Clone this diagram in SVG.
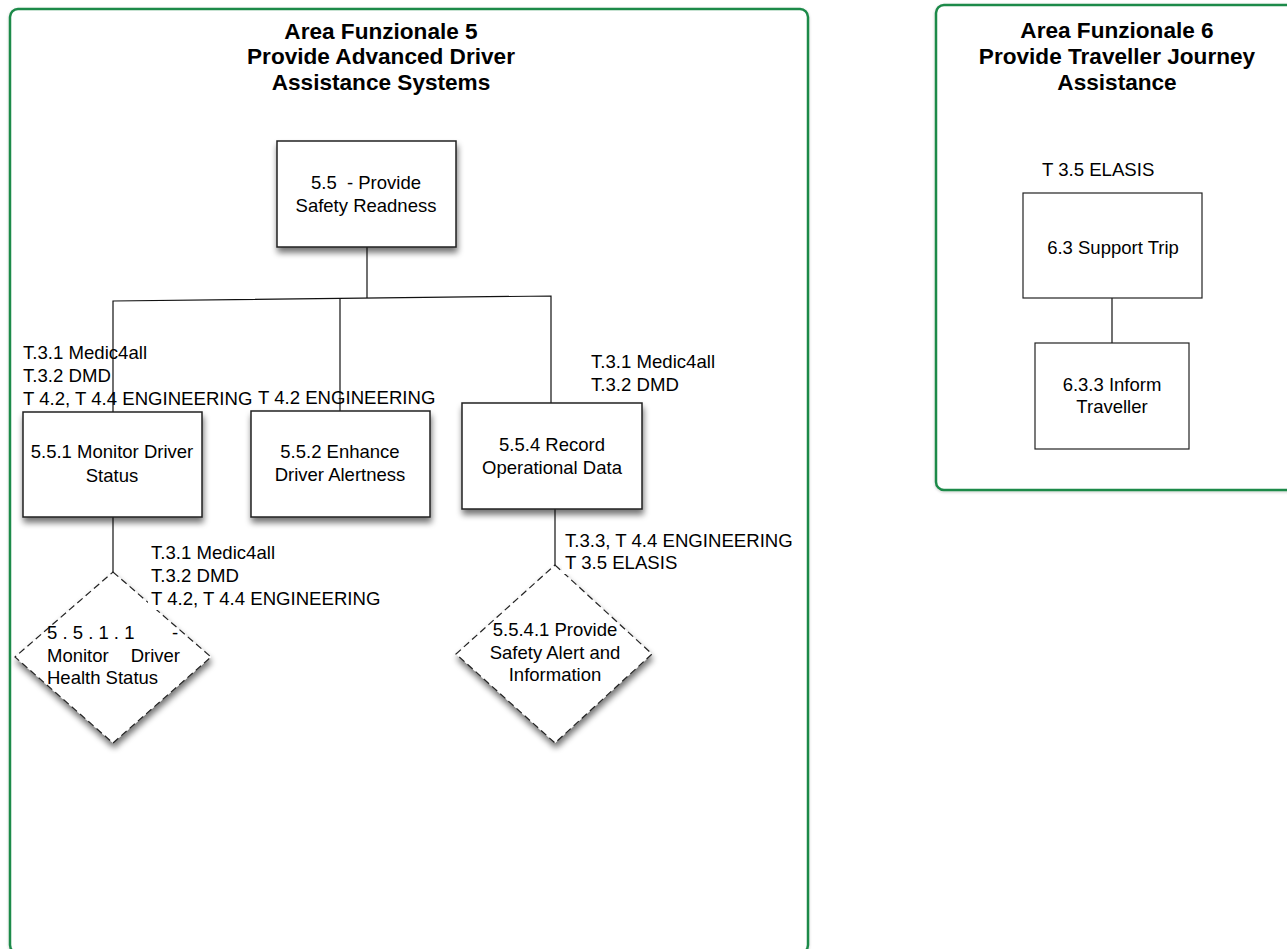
<svg xmlns="http://www.w3.org/2000/svg" width="1287" height="949" viewBox="0 0 1287 949">
  <defs>
    <filter id="shadow" x="-20%" y="-20%" width="150%" height="150%">
      <feGaussianBlur in="SourceAlpha" stdDeviation="3"/>
      <feOffset dx="1" dy="5" result="b"/>
      <feComponentTransfer><feFuncA type="linear" slope="0.55"/></feComponentTransfer>
      <feMerge><feMergeNode/><feMergeNode in="SourceGraphic"/></feMerge>
    </filter>
    <filter id="panelShadow" x="-5%" y="-5%" width="110%" height="110%">
      <feGaussianBlur in="SourceAlpha" stdDeviation="1.5"/>
      <feOffset dx="0" dy="1"/>
      <feComponentTransfer><feFuncA type="linear" slope="0.2"/></feComponentTransfer>
      <feMerge><feMergeNode/><feMergeNode in="SourceGraphic"/></feMerge>
    </filter>
  </defs>
  <style>
    .panel { fill: #ffffff; stroke: #1e8a4a; stroke-width: 2.5; }
    .title { font-family: "Liberation Sans", Arial, sans-serif; font-size: 22.6px; font-weight: bold; fill: #000; text-anchor: middle; }
    .box { fill: #ffffff; stroke: #222; stroke-width: 1.5; }
    .box2 { fill: #ffffff; stroke: #222; stroke-width: 1.2; }
    .dia { fill: #ffffff; stroke: #222; stroke-width: 1.2; stroke-dasharray: 7 4; }
    .t { font-family: "Liberation Sans", Arial, sans-serif; font-size: 18.5px; fill: #000; }
    .c { text-anchor: middle; }
    .edge { fill: none; stroke: #111; stroke-width: 1.2; }
    .lbl { font-family: "Liberation Sans", Arial, sans-serif; font-size: 18.6px; fill: #000; }
  </style>

  <rect width="1287" height="949" fill="#ffffff"/>

  <!-- functional area panels -->
  <g id="area5">
    <rect class="panel" x="10" y="9" width="798" height="944" rx="8" filter="url(#panelShadow)"/>
    <text class="title" x="381" y="39">Area Funzionale 5</text>
    <text class="title" x="381" y="64">Provide Advanced Driver</text>
    <text class="title" x="381" y="90">Assistance Systems</text>
  </g>
  <g id="area6">
    <rect class="panel" x="936" y="5" width="370" height="485" rx="8" filter="url(#panelShadow)"/>
    <text class="title" x="1117" y="38">Area Funzionale 6</text>
    <text class="title" x="1117" y="64">Provide Traveller Journey</text>
    <text class="title" x="1117" y="90">Assistance</text>
  </g>

  <!-- connectors -->
  <g id="connectors">
    <polyline class="edge" points="367,247 367,298"/>
    <polyline class="edge" points="113,412 113,301 551,296 551,403"/>
    <polyline class="edge" points="340,298 340,411"/>
    <polyline class="edge" points="113,517 113,572"/>
    <polyline class="edge" points="555,509 555,565"/>
    <polyline class="edge" points="1112,298 1112,343"/>
  </g>

  <!-- upper annotation labels -->
  <g id="labels-upper">
    <text class="lbl" x="23" y="359">T.3.1 Medic4all</text>
    <text class="lbl" x="23" y="382">T.3.2 DMD</text>
    <text class="lbl" x="23" y="405">T 4.2, T 4.4 ENGINEERING</text>
    <text class="lbl" x="258" y="404">T 4.2 ENGINEERING</text>
    <text class="lbl" x="591" y="368">T.3.1 Medic4all</text>
    <text class="lbl" x="591" y="391">T.3.2 DMD</text>
  </g>

  <g id="n5_5">
    <rect class="box" x="277" y="141" width="179" height="106" filter="url(#shadow)"/>
    <text class="t c" x="366" y="189" xml:space="preserve">5.5  - Provide</text>
    <text class="t c" x="366" y="212">Safety Readness</text>
  </g>

  <g id="n5_5_1">
    <rect class="box" x="23" y="412" width="179" height="105" filter="url(#shadow)"/>
    <text class="t c" x="112" y="458">5.5.1 Monitor Driver</text>
    <text class="t c" x="112" y="482">Status</text>
  </g>

  <g id="n5_5_2">
    <rect class="box" x="251" y="411" width="179" height="106" filter="url(#shadow)"/>
    <text class="t c" x="340" y="458">5.5.2 Enhance</text>
    <text class="t c" x="340" y="481">Driver Alertness</text>
  </g>

  <g id="n5_5_4">
    <rect class="box" x="462" y="403" width="180" height="106" filter="url(#shadow)"/>
    <text class="t c" x="552" y="451">5.5.4 Record</text>
    <text class="t c" x="552" y="474">Operational Data</text>
  </g>

  <g id="n5_5_1_1">
    <polygon class="dia" points="113,572 211,657 113,743 15,657" filter="url(#shadow)"/>
    <text class="t" x="47" y="639" xml:space="preserve">5 . 5 . 1 . 1</text>
    <text class="t" x="172" y="639">-</text>
    <text class="t" x="47" y="662">Monitor</text>
    <text class="t" x="180" y="662" text-anchor="end">Driver</text>
    <text class="t" x="47" y="684">Health Status</text>
  </g>

  <g id="n5_5_4_1">
    <polygon class="dia" points="555,565 652,654 555,743 456,654" filter="url(#shadow)"/>
    <text class="t c" x="555" y="636">5.5.4.1 Provide</text>
    <text class="t c" x="555" y="659">Safety Alert and</text>
    <text class="t c" x="555" y="681">Information</text>
  </g>

  <!-- lower annotation labels, on white so they mask the diamond edges -->
  <g id="labels-lower">
    <rect x="148" y="589" width="236" height="21" fill="#ffffff"/>
    <text class="lbl" x="151" y="559">T.3.1 Medic4all</text>
    <text class="lbl" x="151" y="582">T.3.2 DMD</text>
    <text class="lbl" x="151" y="605">T 4.2, T 4.4 ENGINEERING</text>
    <rect x="562" y="553" width="110" height="21" fill="#ffffff"/>
    <text class="lbl" x="565" y="547">T.3.3, T 4.4 ENGINEERING</text>
    <text class="lbl" x="565" y="569">T 3.5 ELASIS</text>
  </g>

  <g id="n6_3">
    <text class="lbl" x="1042" y="176">T 3.5 ELASIS</text>
    <rect class="box2" x="1023" y="193" width="179" height="105"/>
    <text class="t c" x="1113" y="254">6.3 Support Trip</text>
  </g>

  <g id="n6_3_3">
    <rect class="box2" x="1035" y="343" width="154" height="106"/>
    <text class="t c" x="1112" y="391">6.3.3 Inform</text>
    <text class="t c" x="1112" y="413">Traveller</text>
  </g>
</svg>
